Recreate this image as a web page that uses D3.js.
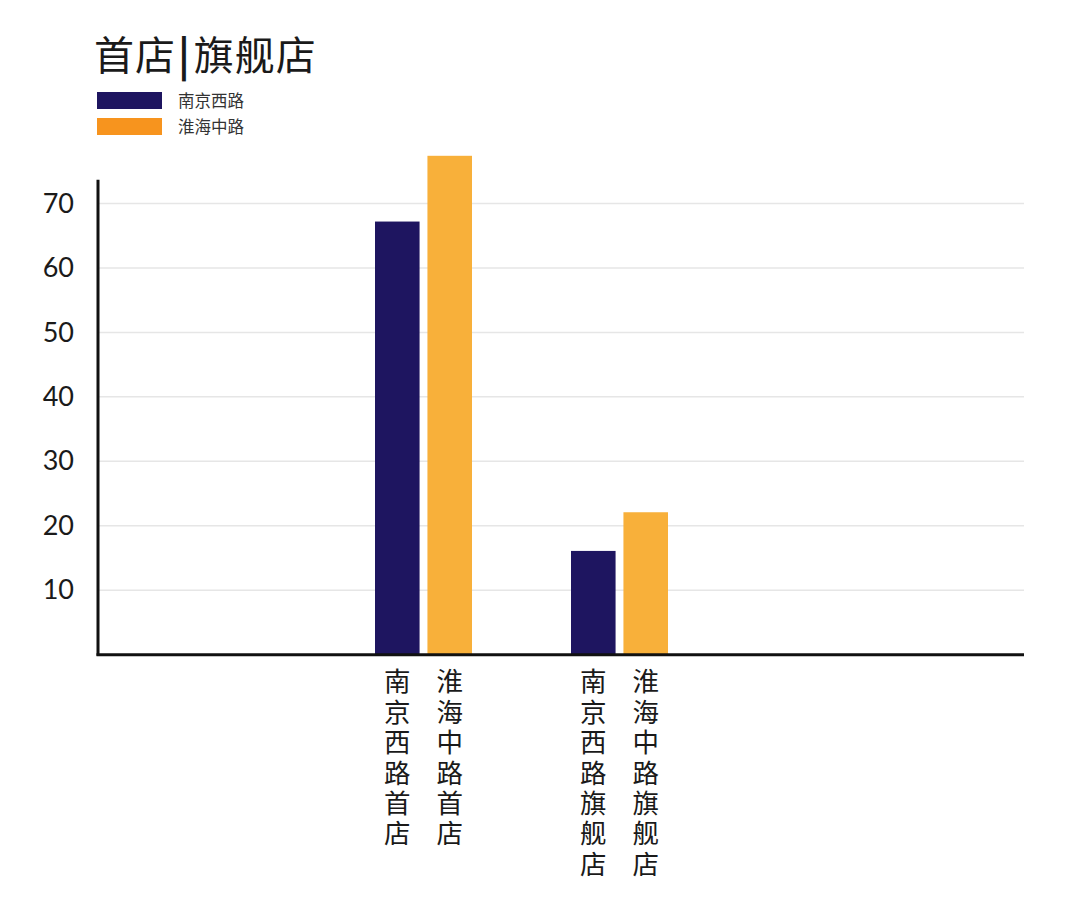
<!DOCTYPE html>
<html>
<head>
<meta charset="utf-8">
<script src="https://cdn.jsdelivr.net/npm/d3@7"></script>
<style>
  body { margin: 0; background: #fff; }
</style>
</head>
<body>
<svg id="chart" width="1080" height="899"></svg>
<script>
// values
var groups = ["首店", "旗舰店"];
var series = ["南京西路", "淮海中路"];
var nanjingValues = [67.2, 16.1];
var huaihaiValues = [77.4, 22.1];
var yTicks = [10, 20, 30, 40, 50, 60, 70];

var barColors = ["#1e1560", "#f8b03a"];
var legendColors = ["#1e1560", "#f7941e"];

var svg = d3.select("#chart");

// title, the bar in the middle is a bit heavier
var title = svg.append("text")
  .attr("x", 94).attr("y", 70)
  .style("font-family", "'Noto Sans CJK SC'")
  .style("font-size", "40px")
  .style("letter-spacing", "1px")
  .style("fill", "#1a1a1a");
title.append("tspan").text(groups[0]);
title.append("tspan").attr("dx", 2).style("font-weight", "bold").text("|");
title.append("tspan").attr("dx", 3).text(groups[1]);

// legend
var legend = svg.selectAll("g.legend")
  .data(series)
  .enter().append("g")
  .attr("class", "legend")
  .attr("transform", (d, i) => "translate(97," + (92 + i * 26) + ")");
legend.append("rect")
  .attr("width", 65).attr("height", 17)
  .style("fill", (d, i) => legendColors[i]);
legend.append("text")
  .attr("x", 81).attr("y", 15)
  .style("font-family", "'Noto Sans CJK SC'")
  .style("font-size", "16.5px")
  .style("fill", "#333")
  .text(d => d);

// scales
var y = d3.scaleLinear().domain([0, 70]).range([654.7, 203.5]);
var yTop = 73.7;
var x0 = d3.scaleBand().domain(groups).range([325.5, 717.5]);
var x1 = d3.scaleBand().domain(series).range([49.5, 146.5]).paddingInner(0.15);

var left = 98, right = 1024;

// gridlines
svg.selectAll("line.grid")
  .data(yTicks)
  .enter().append("line")
  .attr("x1", left).attr("x2", right)
  .attr("y1", d => y(d)).attr("y2", d => y(d))
  .style("stroke", "#e6e6e6")
  .style("stroke-width", "1.5px");

// y axis labels
var yAxis = d3.axisLeft(y).tickValues(yTicks).tickSize(0).tickPadding(24);
var gy = svg.append("g").attr("transform", "translate(" + left + ",0)").call(yAxis);
gy.select(".domain").remove();
gy.selectAll("text")
  .style("font-family", "Lato, 'Open Sans', sans-serif")
  .style("font-size", "27px")
  .style("fill", "#1a1a1a");

// bars
var rows = [];
groups.forEach((g, gi) => {
  rows.push({group: g, s: series[0], si: 0, v: nanjingValues[gi]});
  rows.push({group: g, s: series[1], si: 1, v: huaihaiValues[gi]});
});

svg.selectAll("rect.bar")
  .data(rows)
  .enter().append("rect")
  .attr("class", "bar")
  .attr("x", d => x0(d.group) + x1(d.s))
  .attr("width", x1.bandwidth())
  .attr("y", d => y(d.v))
  .attr("height", d => y(0) - y(d.v))
  .style("fill", d => barColors[d.si]);

// axis lines
svg.append("line")
  .attr("x1", left).attr("x2", left)
  .attr("y1", y(yTop)).attr("y2", y(0) + 1)
  .style("stroke", "#111").style("stroke-width", "3px");
svg.append("line")
  .attr("x1", left - 1.5).attr("x2", right)
  .attr("y1", y(0)).attr("y2", y(0))
  .style("stroke", "#111").style("stroke-width", "3px");

// vertical bar labels, written top to bottom
svg.selectAll("text.blabel")
  .data(rows)
  .enter().append("text")
  .attr("class", "blabel")
  .attr("x", d => x0(d.group) + x1(d.s) + x1.bandwidth() / 2)
  .attr("y", 668)
  .style("writing-mode", "vertical-rl")
  .style("text-orientation", "upright")
  .style("font-family", "'Noto Sans CJK SC'")
  .style("font-size", "26.5px")
  .style("letter-spacing", "3.9px")
  .style("fill", "#1a1a1a")
  .text(d => d.s + d.group);
</script>
</body>
</html>
